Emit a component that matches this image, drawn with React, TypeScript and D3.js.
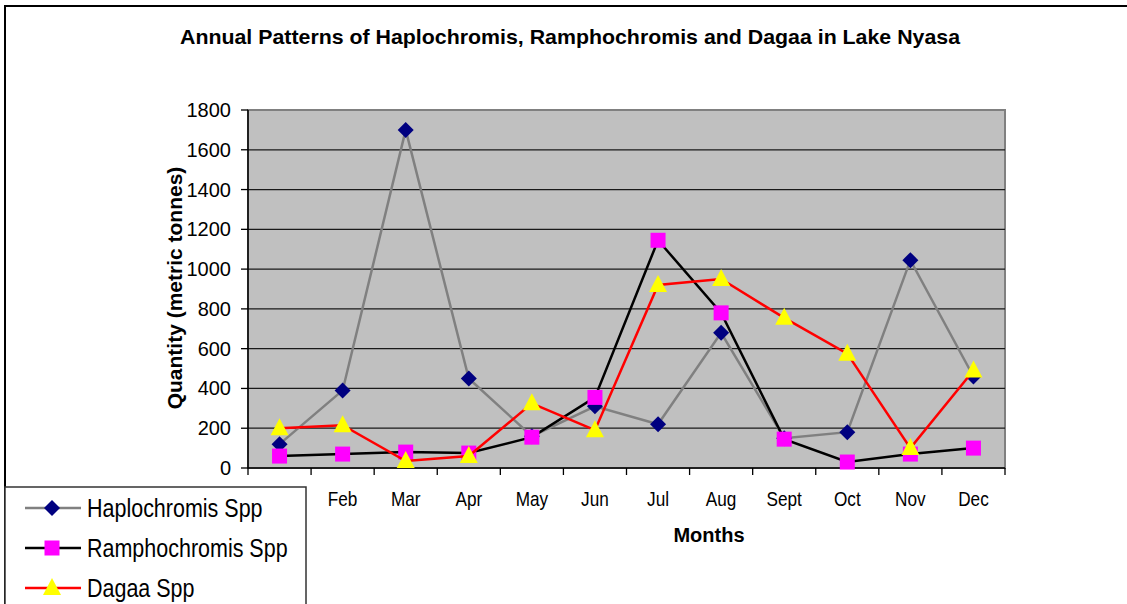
import * as d3 from "d3";

const months = ["Jan", "Feb", "Mar", "Apr", "May", "Jun", "Jul", "Aug", "Sept", "Oct", "Nov", "Dec"];
const haplochromis = [120, 390, 1700, 450, 160, 310, 220, 680, 150, 180, 1045, 460];
const ramphochromis = [60, 70, 80, 75, 155, 355, 1145, 780, 145, 30, 70, 100];
const dagaa = [200, 215, 35, 60, 325, 190, 920, 950, 755, 575, 100, 490];
const yTicks = [0, 200, 400, 600, 800, 1000, 1200, 1400, 1600, 1800];

const W = 1127;
const H = 604;
const plot = { left: 248, right: 1005, top: 110, bottom: 468 };

const sans = "'Liberation Sans', Arial, sans-serif";
// no narrow face installed, so squeeze the regular one horizontally
const squeeze = 0.86;

const series = [
  { name: "Haplochromis Spp", values: haplochromis, line: "#808080", fill: "#000080", shape: "diamond" },
  { name: "Ramphochromis Spp", values: ramphochromis, line: "#000000", fill: "#FF00FF", shape: "square" },
  { name: "Dagaa Spp", values: dagaa, line: "#FF0000", fill: "#FFFF00", shape: "triangle" },
];

function Marker({ shape, x, y, fill }: { shape: string; x: number; y: number; fill: string }) {
  if (shape === "square") return <rect x={x - 7.5} y={y - 7.5} width={15} height={15} fill={fill} />;
  if (shape === "diamond")
    return <path d={`M${x},${y - 8}L${x + 8},${y}L${x},${y + 8}L${x - 8},${y}Z`} fill={fill} />;
  return <path d={`M${x},${y - 10}L${x + 9},${y + 7}L${x - 9},${y + 7}Z`} fill={fill} />;
}

function NarrowText({ x, y, size, anchor, children }: { x: number; y: number; size: number; anchor?: string; children: string }) {
  return (
    <g transform={`translate(${x},${y}) scale(${squeeze},1)`}>
      <text x={0} y={0} textAnchor={anchor ?? "start"} fontFamily={sans} fontSize={size}>
        {children}
      </text>
    </g>
  );
}

export default function App() {
  const x = d3.scaleBand<string>().domain(months).range([plot.left, plot.right]).padding(0);
  const y = d3.scaleLinear().domain([0, 1800]).range([plot.bottom, plot.top]);
  const cx = (m: string) => (x(m) ?? 0) + x.bandwidth() / 2;

  const line = d3
    .line<number>()
    .x((_, i) => cx(months[i]))
    .y((d) => y(d));

  return (
    <svg width={W} height={H} style={{ position: "absolute", left: 0, top: 0 }}>
      <rect x={0} y={0} width={W} height={H} fill="#fff" />
      {/* chart frame, right and bottom edges run off the page */}
      <rect x={5} y={6} width={W + 50} height={H + 50} fill="none" stroke="#000" strokeWidth={2} />

      <text x={570} y={44} textAnchor="middle" fontFamily={sans} fontWeight="bold" fontSize={21} textLength={780} lengthAdjust="spacingAndGlyphs">
        Annual Patterns of Haplochromis, Ramphochromis and Dagaa in Lake Nyasa
      </text>

      {/* plot area */}
      <rect x={plot.left} y={plot.top} width={plot.right - plot.left} height={plot.bottom - plot.top} fill="#C0C0C0" stroke="#808080" strokeWidth={2} />
      {yTicks.slice(1, -1).map((t) => (
        <line key={t} x1={plot.left} x2={plot.right} y1={y(t)} y2={y(t)} stroke="#1a1a1a" strokeWidth={1.3} />
      ))}

      {/* axes */}
      <line x1={plot.left} x2={plot.left} y1={plot.top} y2={plot.bottom} stroke="#000" strokeWidth={1.5} />
      <line x1={plot.left} x2={plot.right} y1={plot.bottom} y2={plot.bottom} stroke="#000" strokeWidth={1.5} />
      {yTicks.map((t) => (
        <g key={t}>
          <line x1={plot.left - 7} x2={plot.left} y1={y(t)} y2={y(t)} stroke="#000" strokeWidth={1.3} />
          <text x={231} y={y(t) + 7} textAnchor="end" fontFamily={sans} fontSize={20}>
            {t}
          </text>
        </g>
      ))}
      {[...months, ""].map((m, i) => {
        const tx = plot.left + i * x.bandwidth();
        return <line key={i} x1={tx} x2={tx} y1={plot.bottom} y2={plot.bottom + 7} stroke="#000" strokeWidth={1.3} />;
      })}
      {months.map((m) => (
        <NarrowText key={m} x={cx(m)} y={506} size={20} anchor="middle">
          {m}
        </NarrowText>
      ))}

      <text transform="translate(182,288) rotate(-90)" textAnchor="middle" fontFamily={sans} fontWeight="bold" fontSize={21}>
        Quantity (metric tonnes)
      </text>
      <text x={709} y={542} textAnchor="middle" fontFamily={sans} fontWeight="bold" fontSize={20}>
        Months
      </text>

      {/* series */}
      {series.map((s) => (
        <g key={s.name}>
          <path d={line(s.values) ?? ""} fill="none" stroke={s.line} strokeWidth={2.5} />
          {s.values.map((v, i) => (
            <Marker key={i} shape={s.shape} x={cx(months[i])} y={y(v)} fill={s.fill} />
          ))}
        </g>
      ))}

      {/* legend, sits over the Jan label as in the original */}
      <rect x={5} y={487} width={301} height={140} fill="#fff" stroke="#333" strokeWidth={1.5} />
      {series.map((s, i) => {
        const ly = 508 + i * 40;
        return (
          <g key={s.name}>
            <line x1={25} x2={81} y1={ly} y2={ly} stroke={s.line} strokeWidth={2.5} />
            <Marker shape={s.shape} x={52} y={ly} fill={s.fill} />
            <NarrowText x={87} y={ly + 9} size={25}>
              {s.name}
            </NarrowText>
          </g>
        );
      })}
    </svg>
  );
}
